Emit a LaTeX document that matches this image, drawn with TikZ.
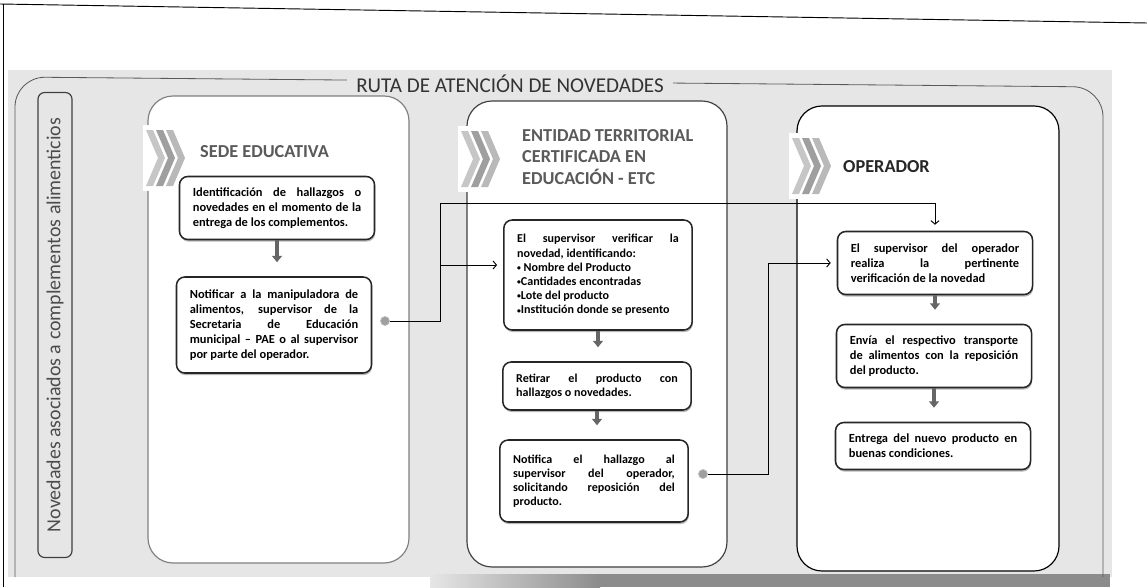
\documentclass[tikz,border=0pt]{standalone}
\usepackage{fontspec}
\setmainfont{Carlito}
\usetikzlibrary{arrows.meta,shadows}
\definecolor{bggray}{HTML}{E6E6E6}
\definecolor{headgray}{HTML}{5A5A5A}
\newcommand\punto{\raisebox{0.5pt}{\fontsize{6.5}{6.5}\selectfont •}}
\tikzset{
	panel/.style={draw=black!75, line width=1pt, fill=white, rounded corners=0.75cm},
	stepbox/.style={draw=black!85, line width=1.3pt, fill=white, rounded corners=0.25cm,
		drop shadow={shadow xshift=0.6pt, shadow yshift=-1.8pt, fill=black!55},
		text width=5.05cm, inner xsep=0.4cm, inner ysep=0pt, align=justify,
		font=\bfseries\fontsize{10.6}{12.8}\selectfont},
	etcbox/.style={stepbox, text width=4.85cm, font=\bfseries\fontsize{10.3}{12.1}\selectfont},
	heading/.style={anchor=west, inner sep=0pt, text=headgray, align=left,
		font=\bfseries\fontsize{15.6}{18.3}\selectfont},
	rutatitle/.style={fill=bggray, inner xsep=8pt, inner ysep=2pt, text=black!80,
		font=\fontsize{18}{20}\selectfont},
	sidelabel/.style={draw=black!75, line width=1pt, rounded corners=0.2cm, fill=bggray,
		rotate=90, minimum width=13.95cm, minimum height=1.02cm, inner sep=0pt,
		text=black!70, font=\fontsize{17}{20}\selectfont},
	stepdown/.style={line width=3.4pt, draw=black!60, shorten >=0.42cm,
		-{Triangle[width=8.5pt,length=5.5pt]}},
	conn/.style={line width=0.8pt, shorten >=0.18cm, -{Straight Barb[length=3pt,width=7pt]}},
	joint/.style={circle, fill=gray!75, draw=gray!50, line width=0.6pt, inner sep=0pt, minimum size=0.27cm},
}
\begin{document}
\begin{tikzpicture}[x=0.03cm, y=-0.03cm]
	\def \chevh{ 28 };
	\useasboundingbox (0,0) rectangle (1147,587);
	\fill[bggray] (8,70) rectangle (1112,577);
	\shade[left color=bggray, right color=gray!90] (430,574) rectangle (600,587);
	\fill[gray!90] (600,574) rectangle (1110,587);
	\draw[line width=0.8pt] (0,4) -- (1147,23);
	\draw[line width=0.8pt] (3,4) -- (3,587);
	\draw[gray!70!black, line width=0.7pt, rounded corners=0.9cm] (15,577) -- (15,77) -- (1103,87) -- (1103,577);
	\node[rutatitle] (ruta) at (510,84) {RUTA DE ATENCIÓN DE NOVEDADES};
	\node[sidelabel] (tema) at (55,325) {Novedades asociados a complementos alimenticios};
	\draw[panel, draw=gray] (148,96) rectangle (409,563);
	\draw[panel] (467,101) rectangle (727,567);
	\draw[panel, draw=black] (797,106) rectangle (1059,571);
	\foreach \cx/\cy in {146/158, 461/159, 792/166} {
		\fill[white] (\cx-3,\cy-33) rectangle (\cx+38,\cy+33);
		\foreach \i/\tone in {0/gray!45, 1/gray!75, 2/gray!55} {
			\fill[\tone] ({\cx+10*\i},{\cy-\chevh}) -- ({\cx+10*\i+7},{\cy-\chevh}) -- ({\cx+10*\i+19},\cy)
				-- ({\cx+10*\i+7},{\cy+\chevh}) -- ({\cx+10*\i},{\cy+\chevh}) -- ({\cx+10*\i+12},\cy) -- cycle;
		}
	}
	\node[heading] (sede) at (200,152) {SEDE EDUCATIVA};
	\node[heading] (etc) at (522,157) {ENTIDAD TERRITORIAL\\CERTIFICADA EN\\EDUCACIÓN - ETC};
	\node[heading, text=black!85] (oper) at (843,167) {OPERADOR};
	\node[stepbox, minimum height=1.89cm] (sede1) at (277,208) {Identificación de hallazgos o\linebreak novedades en el momento de la\linebreak entrega de los complementos.};
	\node[stepbox, minimum height=2.88cm] (sede2) at (274,325) {Notificar a la manipuladora de\linebreak alimentos, supervisor de la\linebreak Secretaria de Educación\linebreak municipal – PAE o al supervisor\linebreak por parte del operador.};
	\node[etcbox, minimum height=3.3cm] (etc1) at (598,275) {El supervisor verificar la\linebreak novedad, identificando:\\\punto{} Nombre del Producto\\\punto Cantidades encontradas\\\punto Lote del producto\\\punto Institución donde se presento};
	\node[etcbox, minimum height=1.44cm] (etc2) at (597,386) {Retirar el producto con\linebreak hallazgos o novedades.};
	\node[etcbox, minimum height=2.46cm] (etc3) at (594,481) {Notifica el hallazgo al\linebreak supervisor del operador,\linebreak solicitando reposición del\linebreak producto.};
	\node[stepbox, minimum height=1.89cm] (op1) at (935,263) {El supervisor del operador\linebreak realiza la pertinente\linebreak verificación de la novedad};
	\node[stepbox, minimum height=1.89cm] (op2) at (934,356) {Envía el respectivo transporte\linebreak de alimentos con la reposición\linebreak del producto.};
	\node[stepbox, minimum height=1.41cm] (op3) at (933,446) {Entrega del nuevo producto en\linebreak buenas condiciones.};
	\node[joint] (aviso) at (385,321) {};
	\node[joint] (reporte) at (703,474) {};
	\coordinate (subida) at (440,203);
	\coordinate (giro) at (768,474);
	\coordinate (entrada) at ([yshift=0.3cm]etc1.west);
	\draw[conn] (aviso) -| (subida) -| (op1.north);
	\draw[conn] (subida |- entrada) -- (entrada);
	\draw[conn] (reporte) -- (giro) |- (op1.west);
	\draw[stepdown] (sede1.south) -- (sede1.south |- sede2.north);
	\draw[stepdown] (etc1.south) -- (etc1.south |- etc2.north);
	\draw[stepdown] (etc2.south) -- (etc2.south |- etc3.north);
	\draw[stepdown] (op1.south) -- (op1.south |- op2.north);
	\draw[stepdown] (op2.south) -- (op2.south |- op3.north);
\end{tikzpicture}
\end{document}
